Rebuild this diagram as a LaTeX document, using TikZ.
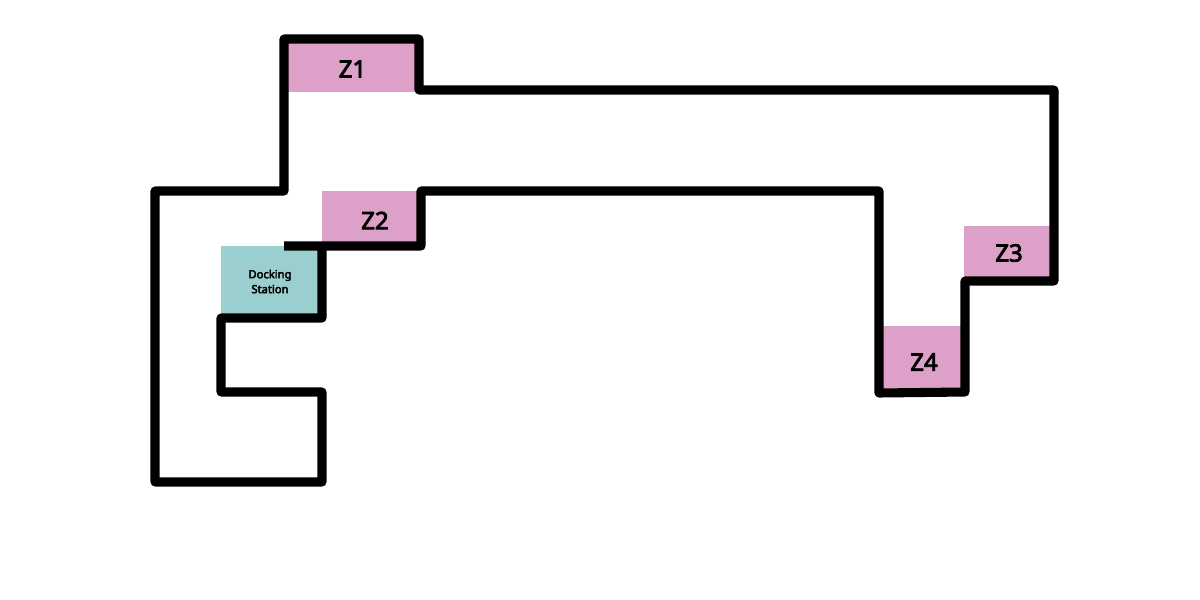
\documentclass[tikz,border=0pt]{standalone}
\usepackage{fontspec}
\setmainfont[FakeBold=3.5]{Noto Sans}
\usepackage{tikz}
\definecolor{zonepink}{HTML}{DDA0C8}
\definecolor{dockteal}{HTML}{9BCECE}

\begin{document}
\begin{tikzpicture}[x=0.75pt, y=-0.75pt,
    zone/.style={fill=zonepink},
    dock/.style={fill=dockteal},
    zonelabel/.style={font=\fontsize{18pt}{18pt}\selectfont, inner sep=0pt},
    docklabel/.style={font=\fontsize{8.4pt}{11.2pt}\selectfont, align=center, inner sep=0pt},
    wall/.style={draw=black, line width=6.8pt, line join=round}]
  \useasboundingbox (0,0) rectangle (1200,600);
  % coloured areas
  \fill[zone] (284,39) rectangle (419,92);
  \fill[zone] (322,191) rectangle (421,246);
  \fill[zone] (964,226) rectangle (1054,281);
  \fill[zone] (879,326) rectangle (965,392);
  \fill[dock] (221,246) rectangle (322,318);
  % walls
  \draw[wall] (284,246) -- (421,246) -- (421,191) -- (879,191) -- (879,393) -- (965,392)
    -- (965,281) -- (1054,281) -- (1054,90) -- (419,90) -- (419,39) -- (284,39)
    -- (284,191) -- (155,191) -- (155,482) -- (322,482) -- (322,392) -- (221,392)
    -- (221,318) -- (322,318) -- (322,246);
  % labels
  \node[zonelabel] (z1) at (352.5,69) {Z1};
  \node[zonelabel] (z2) at (375,220.5) {Z2};
  \node[zonelabel] (z3) at (1009,253) {Z3};
  \node[zonelabel] (z4) at (924,362) {Z4};
  \node[docklabel] (ds) at (270,281.5) {Docking\\Station};
\end{tikzpicture}
\end{document}
